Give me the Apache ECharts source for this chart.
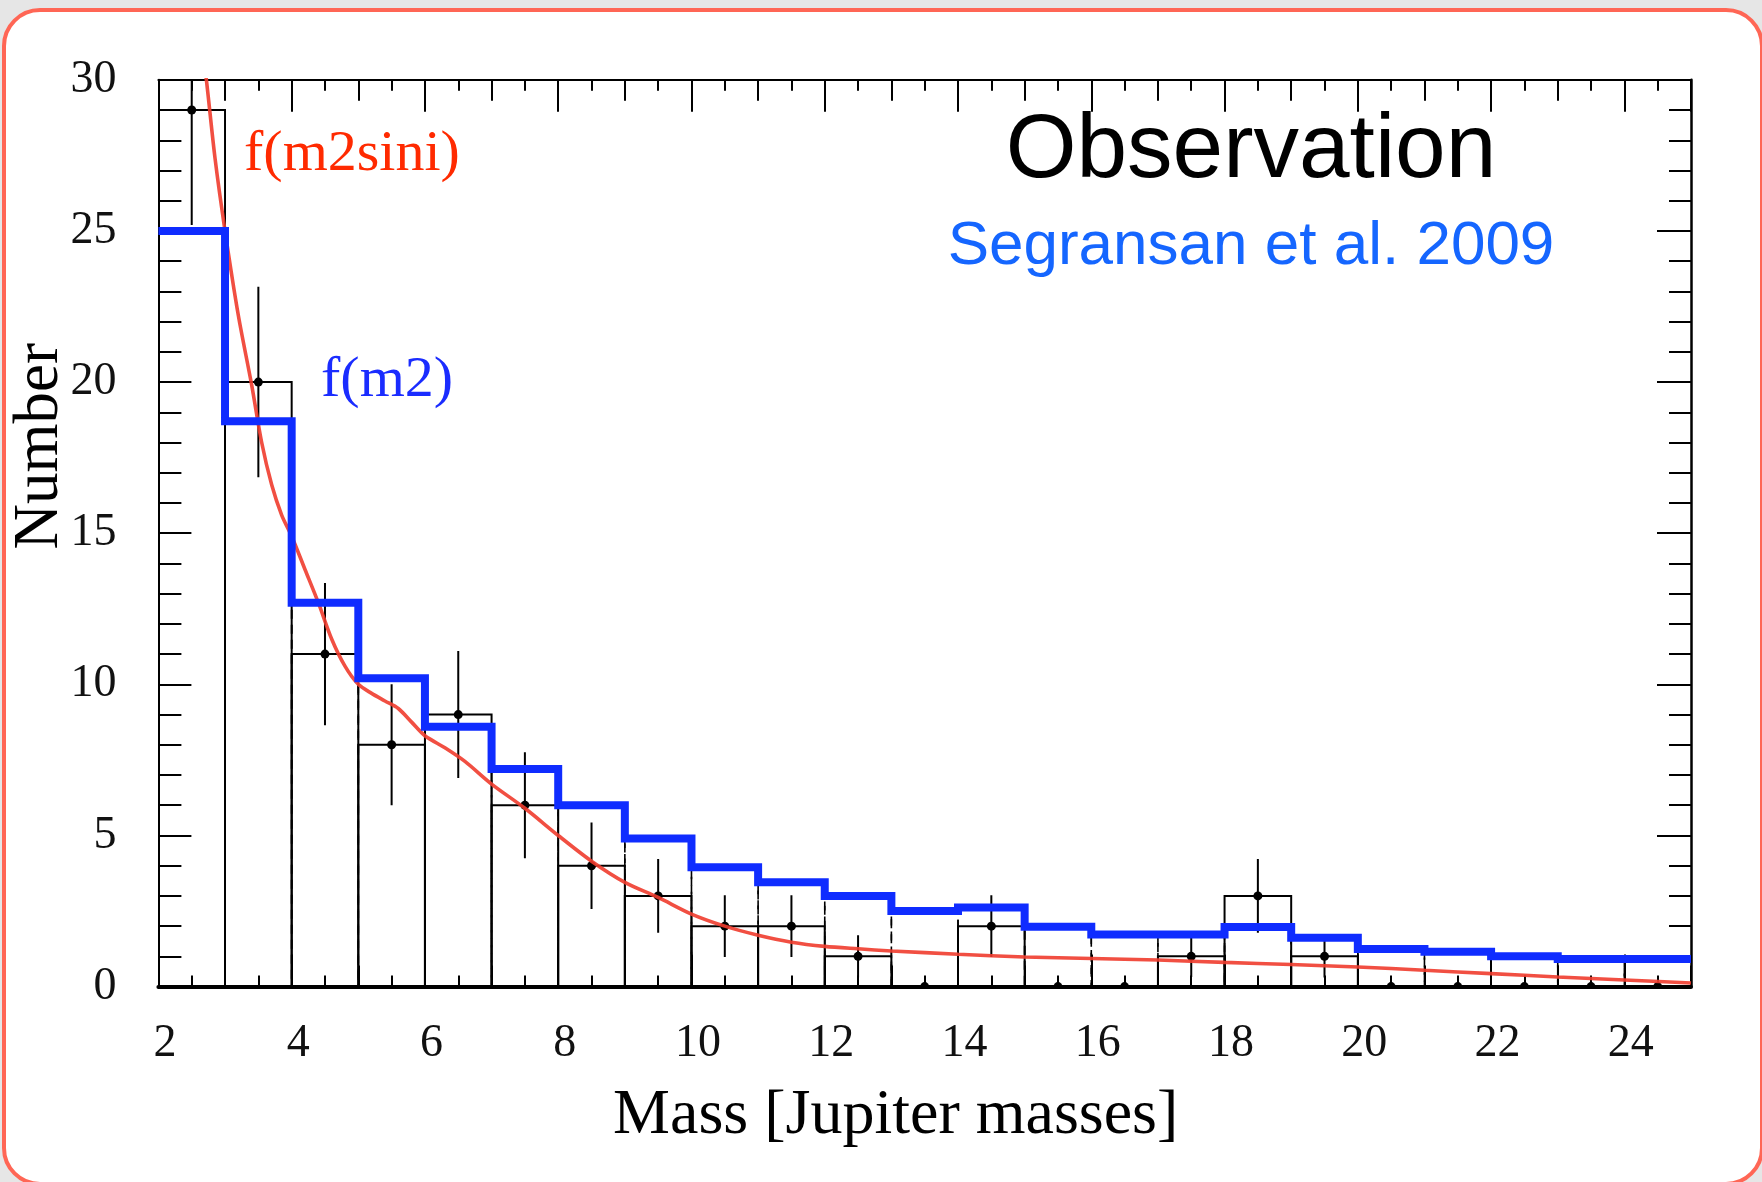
<!DOCTYPE html>
<html>
<head>
<meta charset="utf-8">
<script src="https://cdn.jsdelivr.net/npm/echarts@6/dist/echarts.min.js"></script>
<style>
  html, body { margin: 0; padding: 0; width: 1762px; height: 1182px; overflow: hidden; background: #e6e6e6; }
  #frame { position: absolute; left: 2px; top: 8px; width: 1762px; height: 1178px; box-sizing: border-box;
           border: 4.5px solid #ff6655; border-radius: 38px; background: #ffffff; }
  #chart { position: absolute; left: 0; top: 0; width: 1762px; height: 1182px; }
</style>
</head>
<body>
<div id="frame"></div>
<div id="chart"></div>
<script>
// ---- data ----
const binEdges = [2,3,4,5,6,7,8,9,10,11,12,13,14,15,16,17,18,19,20,21,22,23,24,25];
const observedCounts = [29,20,11,8,9,6,4,3,2,2,1,0,2,0,0,1,3,1,0,0,0,0,0];
const observedErrors = [3.8,3.15,2.35,2.0,2.1,1.75,1.43,1.22,1.02,1.02,0.7,0,1.02,0,0,0.68,1.22,0.7,0,0,0,0,0];
const modelCounts = [25.0,18.7,12.7,10.2,8.6,7.2,6.0,4.9,3.95,3.45,3.0,2.5,2.62,1.98,1.72,1.72,1.97,1.62,1.24,1.15,1.0,0.91,0.91];
const curveX = [2.66,2.72,2.85,3.0,3.2,3.4,3.55,3.7,3.85,4.0,4.2,4.4,4.6,4.8,5.0,5.2,5.4,5.6,5.8,6.0,6.3,6.6,7.0,7.5,8.0,8.5,9.0,9.5,10.0,10.5,11.0,11.5,12.0,12.5,13,14,15,16,17,18,19,20,21,22,23,24,25];
const curveY = [31.0,30.0,27.4,25.0,22.2,19.9,18.0,16.6,15.6,14.9,13.8,12.7,11.5,10.6,10.0,9.7,9.45,9.2,8.75,8.3,7.9,7.45,6.7,5.9,5.0,4.15,3.45,2.95,2.4,2.0,1.7,1.47,1.33,1.25,1.18,1.07,0.98,0.93,0.88,0.8,0.73,0.65,0.54,0.43,0.32,0.22,0.12];
const xTickLabels = ['2','4','6','8','10','12','14','16','18','20','22','24'];
const yTickLabels = ['0','5','10','15','20','25','30'];

const SERIF = '"Liberation Serif", "Times New Roman", serif';
const SANS = '"Liberation Sans", Arial, Helvetica, sans-serif';

const obsData = observedCounts.map((v, i) => [binEdges[i], binEdges[i + 1], v, observedErrors[i]]);
const modelData = modelCounts.map((v, i) => [binEdges[i], binEdges[i + 1], v]);
const stepData = binEdges.map((e, i) => [e, modelCounts[Math.min(i, modelCounts.length - 1)]]);
const curveData = curveX.map((x, i) => [x, curveY[i]]);

function boxRenderer(dash, width) {
  return function (params, api) {
    const p0 = api.coord([api.value(0), 0]);
    const p1 = api.coord([api.value(1), api.value(2)]);
    return {
      type: 'rect',
      shape: { x: p0[0], y: p1[1], width: p1[0] - p0[0], height: p0[1] - p1[1] },
      style: { fill: 'none', stroke: '#000', lineWidth: width, lineDash: dash }
    };
  };
}

function errorRenderer(params, api) {
  const xc = (api.value(0) + api.value(1)) / 2;
  const v = api.value(2), e = api.value(3);
  const c = api.coord([xc, v]);
  const lo = api.coord([xc, v - e]);
  const hi = api.coord([xc, v + e]);
  return {
    type: 'group',
    children: [
      { type: 'line', shape: { x1: c[0], y1: lo[1], x2: c[0], y2: hi[1] }, style: { stroke: '#000', lineWidth: 2 } },
      { type: 'circle', shape: { cx: c[0], cy: c[1], r: 4.5 }, style: { fill: '#000' } }
    ]
  };
}

function tickAxis(pos, interval, len, lineW, showLine) {
  return {
    type: 'value', position: pos, min: 2, max: 25, interval: interval,
    axisLine: { show: showLine, onZero: false, lineStyle: { color: '#000', width: lineW } },
    axisTick: { show: true, inside: true, length: len, lineStyle: { color: '#000', width: 2 } },
    axisLabel: { show: false }, splitLine: { show: false }
  };
}

const chart = echarts.init(document.getElementById('chart'));
chart.setOption({
  animation: false,
  grid: { left: 158.4, right: 71, top: 79.8, bottom: 195.4, containLabel: false, outerBoundsMode: 'none' },
  xAxis: [
    {
      type: 'value', position: 'bottom', min: 2, max: 25, interval: 2,
      axisLine: { show: true, onZero: false, lineStyle: { color: '#000', width: 4 } },
      axisTick: { show: true, inside: true, length: 32, lineStyle: { color: '#000', width: 2 } },
      axisLabel: {
        show: true, margin: 34, fontFamily: SERIF, fontSize: 46, color: '#111',
        showMinLabel: true, showMaxLabel: false, padding: [0, 0, 0, 13],
        formatter: function (v) { const i = xTickLabels.indexOf(String(v)); return i >= 0 ? xTickLabels[i] : ''; }
      },
      splitLine: { show: false },
      name: 'Mass [Jupiter masses]', nameLocation: 'middle', nameGap: 98, nameMoveOverlap: false,
      nameTextStyle: { fontFamily: SERIF, fontSize: 64, color: '#000', padding: [0, 58, 0, 0] }
    },
    tickAxis('bottom', 1, 21, 4, false),
    tickAxis('bottom', 0.5, 11, 4, false),
    tickAxis('top', 2, 32, 2, true),
    tickAxis('top', 1, 21, 2, false),
    tickAxis('top', 0.5, 11, 2, false)
  ],
  yAxis: [
    {
      type: 'value', position: 'left', min: 0, max: 30, interval: 5,
      axisLine: { show: true, onZero: false, lineStyle: { color: '#000', width: 2 } },
      axisTick: { show: true, inside: true, length: 33, lineStyle: { color: '#000', width: 2 } },
      minorTick: { show: true, splitNumber: 5, length: 23, lineStyle: { color: '#000', width: 2 } },
      axisLabel: {
        show: true, margin: 42, fontFamily: SERIF, fontSize: 46, color: '#111',
        formatter: function (v) { const i = yTickLabels.indexOf(String(v)); return i >= 0 ? yTickLabels[i] : ''; }
      },
      splitLine: { show: false }, minorSplitLine: { show: false },
      name: 'Number', nameLocation: 'middle', nameGap: 86, nameMoveOverlap: false,
      nameTextStyle: { fontFamily: SERIF, fontSize: 63, color: '#000', padding: [0, 0, 0, 174] }
    },
    {
      type: 'value', position: 'right', min: 0, max: 30, interval: 5,
      axisLine: { show: true, onZero: false, lineStyle: { color: '#000', width: 2.5 } },
      axisTick: { show: true, inside: true, length: 34, lineStyle: { color: '#000', width: 2 } },
      minorTick: { show: true, splitNumber: 5, length: 22, lineStyle: { color: '#000', width: 2 } },
      axisLabel: { show: false }, splitLine: { show: false }, minorSplitLine: { show: false }
    }
  ],
  series: [
    {
      type: 'custom', name: 'model boxes', xAxisIndex: 0, yAxisIndex: 0, clip: true, z: 2,
      renderItem: boxRenderer([9, 6], 1.6), data: modelData, encode: { x: [0, 1], y: 2 }
    },
    {
      type: 'custom', name: 'observed', xAxisIndex: 0, yAxisIndex: 0, clip: true, z: 3,
      renderItem: boxRenderer(null, 2), data: obsData, encode: { x: [0, 1], y: 2 }
    },
    {
      type: 'custom', name: 'errors', xAxisIndex: 0, yAxisIndex: 0, clip: true, z: 4,
      renderItem: errorRenderer, data: obsData, encode: { x: [0, 1], y: 2 }
    },
    {
      type: 'line', name: 'f(m2sini)', xAxisIndex: 0, yAxisIndex: 0, data: curveData,
      smooth: 0.3, showSymbol: false, clip: true, z: 5,
      lineStyle: { color: 'rgba(240,60,45,0.9)', width: 3.6 }
    },
    {
      type: 'line', name: 'f(m2)', xAxisIndex: 0, yAxisIndex: 0, data: stepData,
      step: 'end', showSymbol: false, clip: true, z: 6,
      lineStyle: { color: '#0f2cff', width: 8, cap: 'butt', join: 'miter' }
    }
  ],
  graphic: [
    { type: 'text', x: 1251, y: 152, style: { text: 'Observation', fontFamily: SANS, fontSize: 91, fill: '#000', align: 'center', verticalAlign: 'middle' } },
    { type: 'text', x: 1251, y: 247, style: { text: 'Segransan et al. 2009', fontFamily: SANS, fontSize: 62, fill: '#1566ff', align: 'center', verticalAlign: 'middle' } },
    { type: 'text', x: 244, y: 155, style: { text: 'f(m2sini)', fontFamily: SERIF, fontSize: 58, fill: '#ff2a00', align: 'left', verticalAlign: 'middle' } },
    { type: 'text', x: 321, y: 381, style: { text: 'f(m2)', fontFamily: SERIF, fontSize: 58, fill: '#1a2cff', align: 'left', verticalAlign: 'middle' } }
  ]
});
</script>
</body>
</html>
